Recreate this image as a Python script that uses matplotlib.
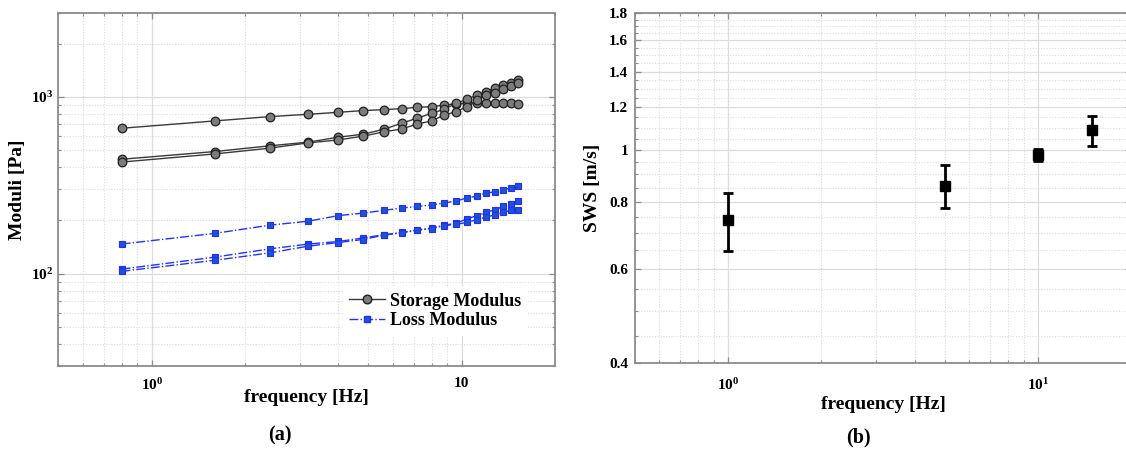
import matplotlib
matplotlib.use("Agg")
import matplotlib.pyplot as plt
from matplotlib.ticker import FixedLocator, FixedFormatter, NullFormatter, LogLocator
from matplotlib.lines import Line2D

plt.rcParams["font.family"] = ["Liberation Serif", "DejaVu Serif"]
plt.rcParams["font.weight"] = "bold"
plt.rcParams["mathtext.fontset"] = "custom"
plt.rcParams["mathtext.rm"] = "Liberation Serif:bold"
plt.rcParams["mathtext.it"] = "Liberation Serif:bold"
plt.rcParams["mathtext.bf"] = "Liberation Serif:bold"

# ---- (a) rheometer frequency sweep ----
freq_a = [0.8, 1.6, 2.4, 3.2, 4.0, 4.8, 5.6, 6.4, 7.2, 8.0,
          8.8, 9.6, 10.4, 11.2, 12.0, 12.8, 13.6, 14.4, 15.2]

storage_1 = [665, 732, 774, 798, 819, 837, 848, 859, 874, 881,
             901, 915, 921, 929, 929, 929, 921, 921, 917]
storage_2 = [444, 491, 529, 555, 592, 615, 656, 710, 759, 809,
             852, 921, 970, 1026, 1071, 1129, 1169, 1205, 1248]
storage_3 = [428, 476, 513, 550, 571, 600, 634, 659, 703, 732,
             791, 826, 881, 960, 1026, 1058, 1105, 1154, 1205]

loss_1 = [147, 169, 188, 198, 213, 220, 228, 235, 240, 245,
          251, 258, 268, 275, 286, 290, 297, 306, 313]
loss_2 = [106, 124, 138, 147, 152, 159, 166, 171, 177, 181,
          188, 193, 204, 213, 222, 230, 240, 249, 258]
loss_3 = [103, 119, 131, 143, 150, 156, 165, 170, 176, 180,
          187, 190, 195, 202, 209, 215, 222, 228, 230]

storage_sets = [storage_1, storage_2, storage_3]
loss_sets = [loss_1, loss_2, loss_3]

# ---- (b) shear wave speed ----
freq_b = [1, 5, 10, 15]
sws = [0.740, 0.858, 0.978, 1.087]
sws_err = [0.092, 0.078, 0.025, 0.072]

xticks_a = [1, 10]
xticklabels_a = [r"$10^{0}$", "10"]
yticks_a = [100, 1000]
yticklabels_a = [r"$10^{2}$", r"$10^{3}$"]
xticks_b = [1, 10]
xticklabels_b = [r"$10^{0}$", r"$10^{1}$"]
yticks_b = [0.4, 0.6, 0.8, 1.0, 1.2, 1.4, 1.6, 1.8]
yticklabels_b = ["0.4", "0.6", "0.8", "1", "1.2", "1.4", "1.6", "1.8"]

SPINE = "#8c8c8c"
GRID = "#dcdcdc"

fig = plt.figure(figsize=(11.26, 4.5), dpi=100)
ax1 = fig.add_axes([0.0518, 0.1867, 0.4411, 0.7851])
ax2 = fig.add_axes([0.5639, 0.1927, 0.4405, 0.7784])


def style_axes(ax, pad_x, pad_y):
    for s in ax.spines.values():
        s.set_color(SPINE)
        s.set_linewidth(1.3)
    ax.tick_params(which="both", direction="in", top=True, right=True,
                   colors=SPINE, labelcolor="black", labelsize=11)
    ax.tick_params(which="major", length=4, width=0.9)
    ax.tick_params(which="minor", length=2.5, width=0.8)
    ax.tick_params(axis="x", pad=pad_x)
    ax.tick_params(axis="y", pad=pad_y)
    ax.grid(which="major", color=GRID, linestyle="-", linewidth=0.9)
    ax.grid(which="minor", color=GRID, linestyle=(0, (1, 1.5)), linewidth=0.8)
    ax.set_axisbelow(True)


# Panel (a)
for vals in storage_sets:
    ax1.plot(freq_a, vals, color="#3a3a3a", linewidth=1.0, marker="o",
             markersize=6.2, markerfacecolor="#7c7c7c",
             markeredgecolor="#202020", markeredgewidth=0.9, zorder=3)
for vals in loss_sets:
    ax1.plot(freq_a, vals, color="#2233ff", linewidth=1.0, linestyle="-.",
             marker="s", markersize=4.0, markerfacecolor="#1c55c8",
             markeredgecolor="#1f2dff", markeredgewidth=0.8, zorder=3)

ax1.set_xscale("log")
ax1.set_yscale("log")
ax1.set_xlim(0.5, 20)
ax1.set_ylim(30, 3000)
ax1.xaxis.set_major_locator(FixedLocator(xticks_a))
ax1.xaxis.set_major_formatter(FixedFormatter(xticklabels_a))
ax1.xaxis.set_minor_locator(LogLocator(base=10, subs=range(2, 10)))
ax1.xaxis.set_minor_formatter(NullFormatter())
ax1.yaxis.set_major_locator(FixedLocator(yticks_a))
ax1.yaxis.set_major_formatter(FixedFormatter(yticklabels_a))
ax1.yaxis.set_minor_locator(LogLocator(base=10, subs=range(2, 10)))
ax1.yaxis.set_minor_formatter(NullFormatter())
style_axes(ax1, 8, 3.5)
ax1.set_xlabel("frequency [Hz]", fontsize=14, fontweight="bold")
ax1.xaxis.set_label_coords(0.5, -0.064)
ax1.set_ylabel("Moduli [Pa]", fontsize=14, fontweight="bold")
ax1.yaxis.set_label_coords(-0.066, 0.5)

handles = [
    Line2D([], [], color="#3a3a3a", linewidth=1.0, marker="o", markersize=6.2,
           markerfacecolor="#7c7c7c", markeredgecolor="#202020"),
    Line2D([], [], color="#2233ff", linewidth=1.0, linestyle="-.", marker="s",
           markersize=4.0, markerfacecolor="#1c55c8", markeredgecolor="#1f2dff"),
]
leg = ax1.legend(handles, ["Storage Modulus", "Loss Modulus"],
                 loc="upper left", bbox_to_anchor=(0.574, 0.223),
                 borderaxespad=0, borderpad=0.3, frameon=True, fancybox=False,
                 edgecolor="white", facecolor="white", framealpha=1,
                 handlelength=2.0, handletextpad=0.3, labelspacing=0.15,
                 prop={"family": "Liberation Serif", "weight": "bold", "size": 13})

# Panel (b)
ax2.errorbar(freq_b, sws, yerr=sws_err, fmt="s", color="black",
             markersize=7, ecolor="black", elinewidth=2.0, capsize=3.5,
             capthick=2.0, zorder=3)
ax2.set_xscale("log")
ax2.set_yscale("log")
ax2.set_xlim(0.5, 20)
ax2.set_ylim(0.4, 1.8)
ax2.xaxis.set_major_locator(FixedLocator(xticks_b))
ax2.xaxis.set_major_formatter(FixedFormatter(xticklabels_b))
ax2.xaxis.set_minor_locator(LogLocator(base=10, subs=range(2, 10)))
ax2.xaxis.set_minor_formatter(NullFormatter())
ax2.yaxis.set_major_locator(FixedLocator(yticks_b))
ax2.yaxis.set_major_formatter(FixedFormatter(yticklabels_b))
ax2.yaxis.set_minor_locator(FixedLocator(
    [0.45, 0.5, 0.55, 0.65, 0.7, 0.75, 0.85, 0.9, 0.95,
     1.05, 1.1, 1.15, 1.25, 1.3, 1.35, 1.45, 1.5, 1.55, 1.65, 1.7, 1.75]))
ax2.yaxis.set_minor_formatter(NullFormatter())
style_axes(ax2, 10, 5)
ax2.set_xlabel("frequency [Hz]", fontsize=14, fontweight="bold")
ax2.xaxis.set_label_coords(0.5, -0.094)
ax2.set_ylabel("SWS [m/s]", fontsize=14, fontweight="bold")
ax2.yaxis.set_label_coords(-0.068, 0.5)

fig.text(280 / 1126, 1 - 435 / 450, "(a)", ha="center", va="center",
         fontsize=14.5, fontweight="bold")
fig.text(858 / 1126, 1 - 437 / 450, "(b)", ha="center", va="center",
         fontsize=14.5, fontweight="bold")

fig.savefig("out.png", dpi=100)
